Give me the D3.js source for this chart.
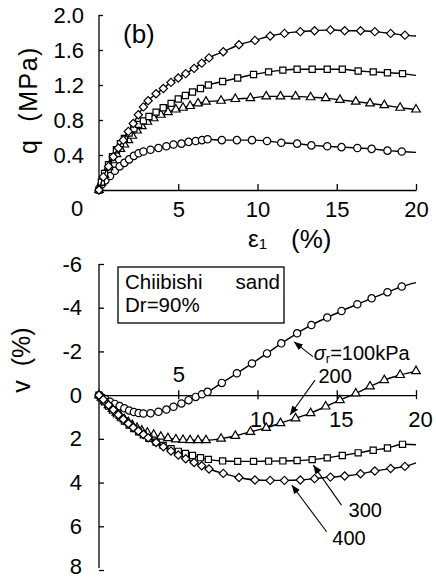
<!DOCTYPE html>
<html>
<head>
<meta charset="utf-8">
<script src="https://cdn.jsdelivr.net/npm/d3@7"></script>
<style>
  body { margin: 0; background: #fff; }
  svg { display: block; font-family: 'Liberation Sans', Arial, sans-serif; }
</style>
</head>
<body>
<div id="chart"></div>
<script>
// strain (%) and readings for each confining pressure
const strain100 = [0, 0.15, 0.4, 0.7, 1.0, 1.3, 1.6, 1.9, 2.2, 2.5, 2.8, 3.25, 3.75, 4.25, 4.7, 5.2, 5.65, 6.1, 6.5, 6.85, 7.75, 8.7, 9.65, 10.6, 11.5, 12.5, 13.4, 14.4, 15.3, 16.3, 17.2, 18.2, 19.1, 20]
const q100 = [0, 0.06, 0.11, 0.16, 0.22, 0.27, 0.31, 0.35, 0.39, 0.42, 0.44, 0.46, 0.48, 0.50, 0.52, 0.53, 0.55, 0.56, 0.57, 0.58, 0.57, 0.57, 0.57, 0.56, 0.54, 0.53, 0.51, 0.50, 0.49, 0.48, 0.47, 0.45, 0.44, 0.43]
const v100 = [0, 0.08, 0.18, 0.3, 0.4, 0.5, 0.6, 0.7, 0.77, 0.82, 0.84, 0.83, 0.76, 0.66, 0.53, 0.38, 0.23, 0.08, -0.04, -0.15, -0.56, -1.0, -1.45, -1.91, -2.37, -2.83, -3.21, -3.55, -3.85, -4.16, -4.43, -4.71, -4.97, -5.15]

const strain200 = [0, 0.15, 0.35, 0.6, 0.85, 1.1, 1.35, 1.6, 1.85, 2.1, 2.4, 2.7, 3.05, 3.45, 3.9, 4.35, 4.85, 5.3, 5.75, 6.25, 6.75, 7.7, 8.6, 9.55, 10.55, 11.45, 12.4, 13.35, 14.3, 15.2, 16.2, 17.1, 18.0, 19.0, 20]
const q200 = [0, 0.08, 0.17, 0.26, 0.34, 0.41, 0.47, 0.52, 0.57, 0.62, 0.68, 0.73, 0.78, 0.82, 0.86, 0.89, 0.92, 0.94, 0.96, 0.99, 1.01, 1.02, 1.04, 1.05, 1.07, 1.07, 1.07, 1.06, 1.05, 1.03, 1.01, 0.99, 0.97, 0.94, 0.92]
const v200 = [0, 0.12, 0.28, 0.46, 0.63, 0.8, 0.95, 1.1, 1.24, 1.37, 1.5, 1.62, 1.72, 1.81, 1.9, 1.97, 2.02, 2.05, 2.06, 2.06, 2.06, 1.99, 1.86, 1.68, 1.5, 1.28, 1.06, 0.82, 0.52, 0.23, -0.08, -0.40, -0.69, -0.92, -1.10]

const strain300 = [0, 0.15, 0.35, 0.6, 0.85, 1.1, 1.35, 1.6, 1.9, 2.2, 2.5, 2.8, 3.15, 3.6, 4.05, 4.55, 5.0, 5.45, 5.9, 6.4, 6.9, 7.8, 8.75, 9.75, 10.7, 11.6, 12.5, 13.45, 14.4, 15.35, 16.35, 17.3, 18.2, 19.15, 20]
const q300 = [0, 0.09, 0.19, 0.29, 0.38, 0.46, 0.53, 0.59, 0.65, 0.70, 0.75, 0.79, 0.84, 0.89, 0.94, 0.99, 1.04, 1.08, 1.12, 1.16, 1.20, 1.24, 1.28, 1.32, 1.35, 1.37, 1.38, 1.38, 1.38, 1.38, 1.36, 1.35, 1.34, 1.33, 1.31]
const v300 = [0, 0.13, 0.3, 0.5, 0.68, 0.86, 1.03, 1.19, 1.37, 1.53, 1.68, 1.82, 1.97, 2.15, 2.3, 2.45, 2.57, 2.67, 2.76, 2.86, 2.94, 3.01, 3.03, 3.03, 3.02, 3.01, 2.99, 2.95, 2.87, 2.76, 2.64, 2.52, 2.42, 2.25, 2.27]

const strain400 = [0, 0.27, 0.6, 0.9, 1.22, 1.53, 1.85, 2.16, 2.48, 2.8, 3.1, 3.6, 4.06, 4.54, 5.0, 5.47, 6.0, 6.48, 6.94, 7.84, 8.83, 9.84, 10.8, 11.7, 12.7, 13.6, 14.6, 15.5, 16.5, 17.4, 18.4, 19.3, 20]
const q400 = [0, 0.15, 0.27, 0.38, 0.48, 0.57, 0.67, 0.76, 0.86, 0.95, 1.02, 1.10, 1.16, 1.23, 1.28, 1.33, 1.39, 1.45, 1.51, 1.58, 1.66, 1.71, 1.76, 1.79, 1.81, 1.82, 1.83, 1.82, 1.82, 1.81, 1.79, 1.77, 1.76]
const v400 = [0, 0.2, 0.45, 0.67, 0.9, 1.1, 1.3, 1.48, 1.64, 1.8, 1.95, 2.17, 2.36, 2.56, 2.74, 2.91, 3.08, 3.23, 3.38, 3.58, 3.77, 3.88, 3.9, 3.9, 3.88, 3.82, 3.75, 3.70, 3.60, 3.47, 3.36, 3.26, 3.1]

const qTicks = [0.4, 0.8, 1.2, 1.6, 2.0]
const vTicks = [-6, -4, -2, 0, 2, 4, 6, 8]
const strainTicks = [5, 10, 15, 20]
const pressureLabels = ['100kPa', '200', '300', '400']

const width = 436
const height = 581
const font = "'Liberation Sans', Arial, sans-serif"

const svg = d3
  .select('#chart')
  .append('svg')
  .attr('width', width)
  .attr('height', height)

svg.append('defs')
  .append('marker')
  .attr('id', 'head')
  .attr('viewBox', '0 0 10 10')
  .attr('refX', 10)
  .attr('refY', 5)
  .attr('markerWidth', 9)
  .attr('markerHeight', 9)
  .attr('markerUnits', 'userSpaceOnUse')
  .attr('orient', 'auto')
  .append('path')
  .attr('d', 'M0,1 L10,5 L0,9 Z')
  .attr('fill', 'black')

const x = d3.scaleLinear().domain([0, 20]).range([99, 416])
const yq = d3.scaleLinear().domain([0, 2]).range([190, 15])
const yv = d3.scaleLinear().domain([-6, 8]).range([264, 570])

// symbol for each series: circle, triangle, square, diamond
const series = [
  { strain: strain100, q: q100, v: v100, sym: d3.symbolCircle, size: 42, rot: 0, last: false },
  { strain: strain200, q: q200, v: v200, sym: d3.symbolTriangle, size: 32, rot: 0, last: true },
  { strain: strain300, q: q300, v: v300, sym: d3.symbolSquare, size: 38, rot: 0, last: false },
  { strain: strain400, q: q400, v: v400, sym: d3.symbolSquare, size: 34, rot: 45, last: false }
]

function drawSeries(g, s, key, y) {
  const pts = s.strain.map((e, i) => [e, s[key][i]])
  g.append('path')
    .datum(pts)
    .attr('d', d3.line().x(d => x(d[0])).y(d => y(d[1])).curve(d3.curveMonotoneX))
    .attr('fill', 'none')
    .attr('stroke', 'black')
    .attr('stroke-width', 1.4)
  const shown = s.last ? pts : pts.slice(0, -1)
  g.selectAll(null)
    .data(shown)
    .join('path')
    .attr('d', d3.symbol().type(s.sym).size(s.size))
    .attr('transform', d => `translate(${x(d[0])},${y(d[1])}) rotate(${s.rot})`)
    .attr('fill', 'white')
    .attr('stroke', 'black')
    .attr('stroke-width', 1.2)
}

// ---------- top panel: q vs strain ----------
const topG = svg.append('g')

topG.append('g')
  .attr('transform', 'translate(99,0)')
  .call(d3.axisLeft(yq).tickValues(qTicks).tickFormat(d3.format('.1f')).tickSize(-4).tickSizeOuter(0).tickPadding(15))
  .call(g => g.select('.domain').attr('d', 'M0,15V190'))

topG.append('g')
  .attr('transform', 'translate(0,190)')
  .call(d3.axisBottom(x).tickValues(strainTicks).tickSize(-6).tickSizeOuter(0).tickPadding(11))

topG.append('text')
  .attr('x', 77).attr('y', 216)
  .attr('text-anchor', 'middle')
  .style('font-size', '22px')
  .text('0')

topG.append('text')
  .attr('x', 123).attr('y', 43)
  .style('font-size', '26px')
  .text('(b)')

topG.append('text')
  .attr('transform', 'translate(37,100) rotate(-90)')
  .attr('text-anchor', 'middle')
  .style('font-size', '25px')
  .style('white-space', 'pre')
  .style('letter-spacing', '1.5px')
  .text('q  (MPa)')

const xl = topG.append('text').attr('x', 248).attr('y', 247).style('font-size', '24px')
xl.append('tspan').text('ε')
xl.append('tspan').attr('dy', 2).style('font-size', '15px').text('1')
topG.append('text').attr('x', 291).attr('y', 248).style('font-size', '26px').text('(%)')

series.forEach(s => drawSeries(topG, s, 'q', yq))

// ---------- bottom panel: volumetric strain ----------
const botG = svg.append('g')

botG.append('g')
  .attr('transform', 'translate(99,0)')
  .call(d3.axisLeft(yv).tickValues(vTicks).tickFormat(d => String(d)).tickSize(-5).tickSizeOuter(0).tickPadding(17))
  .call(g => g.select('.domain').attr('d', 'M0,264V568'))
  .call(g => g.selectAll('.tick').filter(d => d === 0).select('line').remove())
  .call(g => g.selectAll('.tick').filter(d => d === 8).select('text').attr('dy', '0.15em'))

const xb = botG.append('g')
  .attr('transform', `translate(0,${yv(0)})`)
  .call(d3.axisBottom(x).tickValues(strainTicks).tickSize(4).tickSizeOuter(0).tickPadding(12))
xb.selectAll('.tick line').attr('y1', -5)
xb.selectAll('.tick text')
  .attr('dx', d => (d === 5 ? 0 : 4))
  .attr('y', d => (d === 5 ? -29 : 16))

botG.append('rect')
  .attr('x', 118).attr('y', 267)
  .attr('width', 166).attr('height', 56)
  .attr('fill', 'white')
  .attr('stroke', 'black')
  .attr('stroke-width', 1.3)

botG.append('text').attr('x', 125).attr('y', 289).style('font-size', '20.5px').text('Chiibishi')
botG.append('text').attr('x', 280).attr('y', 289).attr('text-anchor', 'end').style('font-size', '20.5px').text('sand')
botG.append('text').attr('x', 125).attr('y', 312).style('font-size', '20.5px').text('Dr=90%')

botG.append('text')
  .attr('transform', 'translate(30,360) rotate(-90)')
  .attr('text-anchor', 'middle')
  .style('font-size', '25px')
  .style('white-space', 'pre')
  .text('v  (%)')

series.forEach(s => drawSeries(botG, s, 'v', yv))

// arrows and labels, in data units (strain, v)
const notes = [
  { head: [12.3, -2.44], tail: [13.5, -1.76], at: [13.55, -1.62], anchor: 'start' },
  { head: [12.05, 0.91], tail: [13.63, -0.69], at: [14.9, -0.56], anchor: 'middle' },
  { head: [13.52, 3.2], tail: [15.3, 5.03], at: [16.8, 5.58], anchor: 'middle' },
  { head: [12.16, 4.11], tail: [14.36, 6.25], at: [15.77, 6.86], anchor: 'middle' }
]

notes.forEach((n, i) => {
  botG.append('line')
    .attr('x1', x(n.tail[0])).attr('y1', yv(n.tail[1]))
    .attr('x2', x(n.head[0])).attr('y2', yv(n.head[1]))
    .attr('stroke', 'black')
    .attr('stroke-width', 1.1)
    .attr('marker-end', 'url(#head)')
  const t = botG.append('text')
    .attr('x', x(n.at[0])).attr('y', yv(n.at[1]))
    .attr('text-anchor', n.anchor)
    .style('font-size', '20px')
  if (i === 0) {
    t.append('tspan').style('font-style', 'italic').text('σ')
    t.append('tspan').attr('dy', 3).style('font-size', '13px').text('r')
    t.append('tspan').attr('dy', -3).text('=' + pressureLabels[i])
  } else {
    t.text(pressureLabels[i])
  }
})

svg.selectAll('.tick text').style('font-size', '22px').style('font-family', font).attr('fill', 'black')
svg.selectAll('.domain, .tick line').attr('stroke', 'black').attr('stroke-width', 1.3)
</script>
</body>
</html>
